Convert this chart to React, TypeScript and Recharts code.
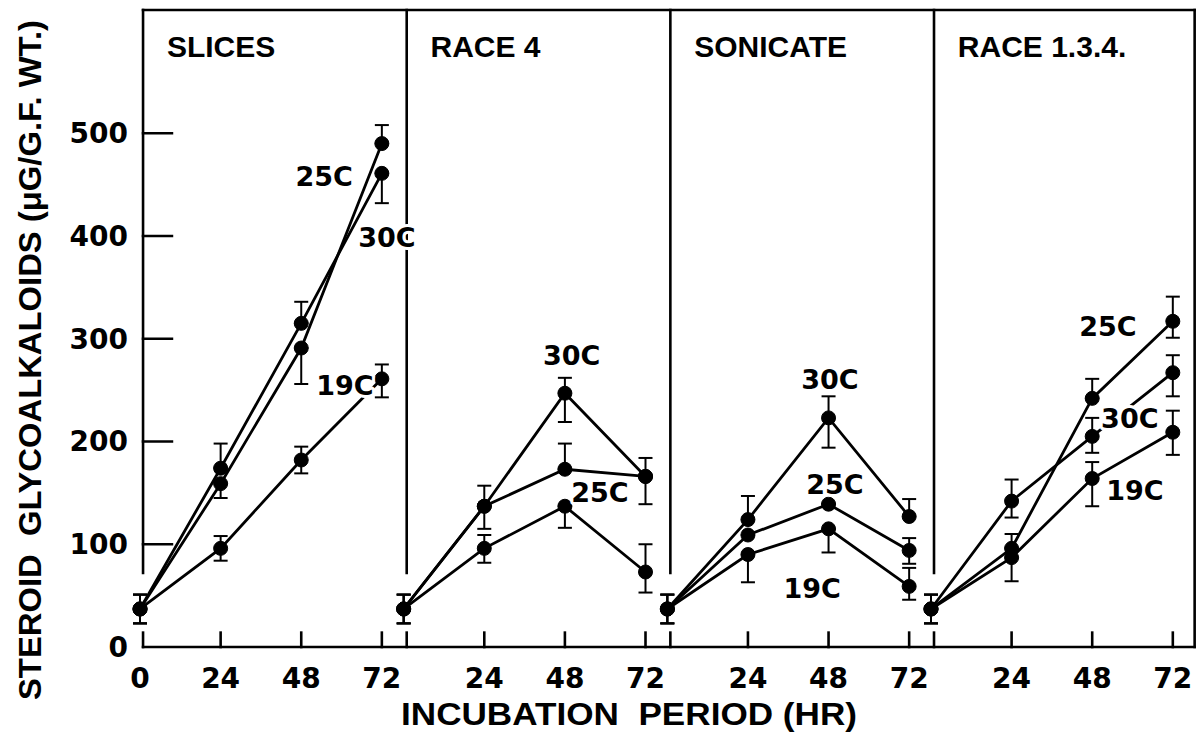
import React from 'react'
import {
  LineChart,
  Line,
  XAxis,
  YAxis,
  ErrorBar,
  ReferenceLine,
  ReferenceDot,
} from 'recharts'

// incubation times (hr) used in every panel
const hours = [0, 24, 48, 72]
const panelTitles = ['SLICES', 'RACE 4', 'SONICATE', 'RACE 1.3.4.']

// steroid glycoalkaloids (ug / g f. wt.)
const slices19 = [37, 96, 182, 261]
const slices25 = [37, 159, 291, 490]
const slices30 = [37, 174, 315, 461]
const race4_19 = [37, 96, 137, 73]
const race4_25 = [37, 137, 173, 166]
const race4_30 = [37, 137, 247, 166]
const sonic19 = [37, 90, 115, 59]
const sonic25 = [37, 109, 139, 94]
const sonic30 = [37, 124, 223, 127]
const race134_19 = [37, 87, 164, 209]
const race134_25 = [37, 96, 242, 317]
const race134_30 = [37, 142, 205, 267]

// error bars as [below, above]
const slices19Err = [[14, 14], [12, 12], [13, 13], [18, 14]]
const slices25Err = [[14, 14], [14, 0], [35, 0], [0, 18]]
const slices30Err = [[14, 14], [0, 24], [0, 21], [29, 0]]
const race4_19Err = [[14, 14], [14, 13], [21, 0], [20, 27]]
const race4_25Err = [[14, 14], [0, 0], [0, 25], [0, 0]]
const race4_30Err = [[14, 14], [22, 20], [28, 15], [27, 18]]
const sonic19Err = [[14, 14], [27, 0], [23, 0], [13, 18]]
const sonic25Err = [[14, 14], [0, 0], [0, 0], [13, 12]]
const sonic30Err = [[14, 14], [0, 23], [29, 21], [0, 17]]
const race134_19Err = [[14, 14], [23, 0], [27, 16], [22, 21]]
const race134_25Err = [[14, 14], [0, 14], [0, 19], [16, 24]]
const race134_30Err = [[14, 14], [16, 21], [16, 18], [23, 17]]

const yTicks = [0, 100, 200, 300, 400, 500]

// temperature labels: panel, hour, value
const tempLabels = [
  { panel: 0, hour: 54.8, value: 458, text: '25C' },
  { panel: 0, hour: 73.5, value: 399, text: '30C' },
  { panel: 0, hour: 61, value: 255, text: '19C' },
  { panel: 1, hour: 50, value: 284, text: '30C' },
  { panel: 1, hour: 58.4, value: 151, text: '25C' },
  { panel: 2, hour: 48.4, value: 261, text: '30C' },
  { panel: 2, hour: 49.9, value: 159, text: '25C' },
  { panel: 2, hour: 43.1, value: 57, text: '19C' },
  { panel: 3, hour: 52.7, value: 312, text: '25C' },
  { panel: 3, hour: 59.2, value: 223, text: '30C' },
  { panel: 3, hour: 60.7, value: 153, text: '19C' },
]

const SPAN = 78.5 // hours of axis given to one panel
const EDGE = 0.9 // panel border sits just right of hour 0
const TOP = 620

const panels = [
  [slices19, slices25, slices30],
  [race4_19, race4_25, race4_30],
  [sonic19, sonic25, sonic30],
  [race134_19, race134_25, race134_30],
]
const panelErrs = [
  [slices19Err, slices25Err, slices30Err],
  [race4_19Err, race4_25Err, race4_30Err],
  [sonic19Err, sonic25Err, sonic30Err],
  [race134_19Err, race134_25Err, race134_30Err],
]

const xTicks: { pos: number; label: string }[] = []
panels.forEach((_, k) => {
  hours.forEach((h) => {
    if (k === 0 || h > 0) xTicks.push({ pos: k * SPAN + h, label: String(h) })
  })
})
const xLabel = new Map(xTicks.map((t) => [t.pos, t.label]))

const font = 'DejaVu Sans, Verdana, sans-serif'
const frame = { stroke: '#000', strokeWidth: 2.6, strokeLinecap: 'square' as const }

export default function App() {
  const frameSegs: { x: number; y: number }[][] = []
  for (let k = 0; k < 4; k++) {
    const bx = k * SPAN + EDGE
    frameSegs.push([{ x: bx, y: 72 }, { x: bx, y: TOP }])
    frameSegs.push([{ x: bx, y: 0 }, { x: bx, y: 14 }])
    hours.slice(1).forEach((h) => {
      frameSegs.push([{ x: k * SPAN + h, y: 0 }, { x: k * SPAN + h, y: 14 }])
    })
  }
  frameSegs.push([{ x: 4 * SPAN, y: 0 }, { x: 4 * SPAN, y: TOP }])
  frameSegs.push([{ x: EDGE, y: TOP }, { x: 4 * SPAN, y: TOP }])
  frameSegs.push([{ x: EDGE, y: 0 }, { x: 4 * SPAN, y: 0 }])
  yTicks.slice(1).forEach((v) => {
    frameSegs.push([{ x: EDGE, y: v }, { x: EDGE + 8.6, y: v }])
  })

  return (
    <div style={{ position: 'absolute', left: 0, top: 0, width: 1202, height: 732, background: '#fff' }}>
      <LineChart width={1202} height={732} margin={{ top: 10, right: 4, bottom: 0, left: 0 }}>
        <XAxis
          dataKey="x"
          type="number"
          domain={[-0.9, 315]}
          ticks={xTicks.map((t) => t.pos)}
          interval={0}
          tickFormatter={(v) => xLabel.get(v) ?? ''}
          axisLine={false}
          tickLine={false}
          tickSize={0}
          tickMargin={21}
          height={85}
          tick={{ fill: '#000', fontSize: 28, fontWeight: 'bold', fontFamily: font }}
        />
        <YAxis
          type="number"
          domain={[0, TOP]}
          ticks={yTicks}
          interval={0}
          axisLine={false}
          tickLine={false}
          tickSize={0}
          tickMargin={9}
          width={137}
          tick={{ fill: '#000', fontSize: 28, fontWeight: 'bold', fontFamily: font }}
        />
        {frameSegs.map((seg, i) => (
          <ReferenceLine key={'f' + i} segment={seg} {...frame} />
        ))}
        {panels.map((series, k) =>
          series.map((values, s) => (
            <Line
              key={`p${k}s${s}`}
              data={hours.map((h, i) => ({ x: k * SPAN + h, y: values[i], err: panelErrs[k][s][i] }))}
              dataKey="y"
              type="linear"
              stroke="#000"
              strokeWidth={2.8}
              dot={{ r: 7, fill: '#000', stroke: '#000', strokeWidth: 1 }}
              activeDot={false}
              isAnimationActive={false}
            >
              <ErrorBar dataKey="err" width={7} stroke="#000" strokeWidth={2} direction="y" />
            </Line>
          ))
        )}
        {panelTitles.map((t, k) => (
          <ReferenceDot
            key={'t' + k}
            x={k * SPAN + EDGE + 7.1}
            y={574}
            r={0}
            zIndex={2000}
            shape={(p: any) => (
              <text x={p.cx} y={p.cy} textAnchor="start" fill="#000" fontFamily="Liberation Sans, Arial, sans-serif" fontWeight="bold" fontSize={30}>
                {t}
              </text>
            )}
          />
        ))}
        {tempLabels.map((l, i) => (
          <ReferenceDot
            key={'l' + i}
            x={l.panel * SPAN + l.hour}
            y={l.value}
            r={0}
            zIndex={2000}
            shape={(p: any) => (
              <text
                x={p.cx}
                y={p.cy + 10}
                textAnchor="middle"
                fill="#000"
                stroke="#fff"
                strokeWidth={6}
                strokeLinejoin="round"
                style={{ paintOrder: 'stroke' }}
                fontFamily={font}
                fontWeight="bold"
                fontSize={27}
              >
                {l.text}
              </text>
            )}
          />
        ))}
      </LineChart>
      <svg width={1202} height={732} style={{ position: 'absolute', left: 0, top: 0, pointerEvents: 'none' }}>
        <text
          transform="translate(41,360) rotate(-90)"
          textAnchor="middle"
          fill="#000"
          fontFamily="Liberation Sans, Arial, sans-serif"
          fontWeight="bold"
          fontSize={32}
          textLength={680}
          lengthAdjust="spacingAndGlyphs"
          style={{ whiteSpace: 'pre' }}
        >
          {'STEROID  GLYCOALKALOIDS (\u03BCG/G.F. WT.)'}
        </text>
        <text
          x={629}
          y={725}
          textAnchor="middle"
          fill="#000"
          fontFamily="Liberation Sans, Arial, sans-serif"
          fontWeight="bold"
          fontSize={31}
          textLength={456}
          lengthAdjust="spacingAndGlyphs"
          style={{ whiteSpace: 'pre' }}
        >
          {'INCUBATION  PERIOD (HR)'}
        </text>
      </svg>
    </div>
  )
}
